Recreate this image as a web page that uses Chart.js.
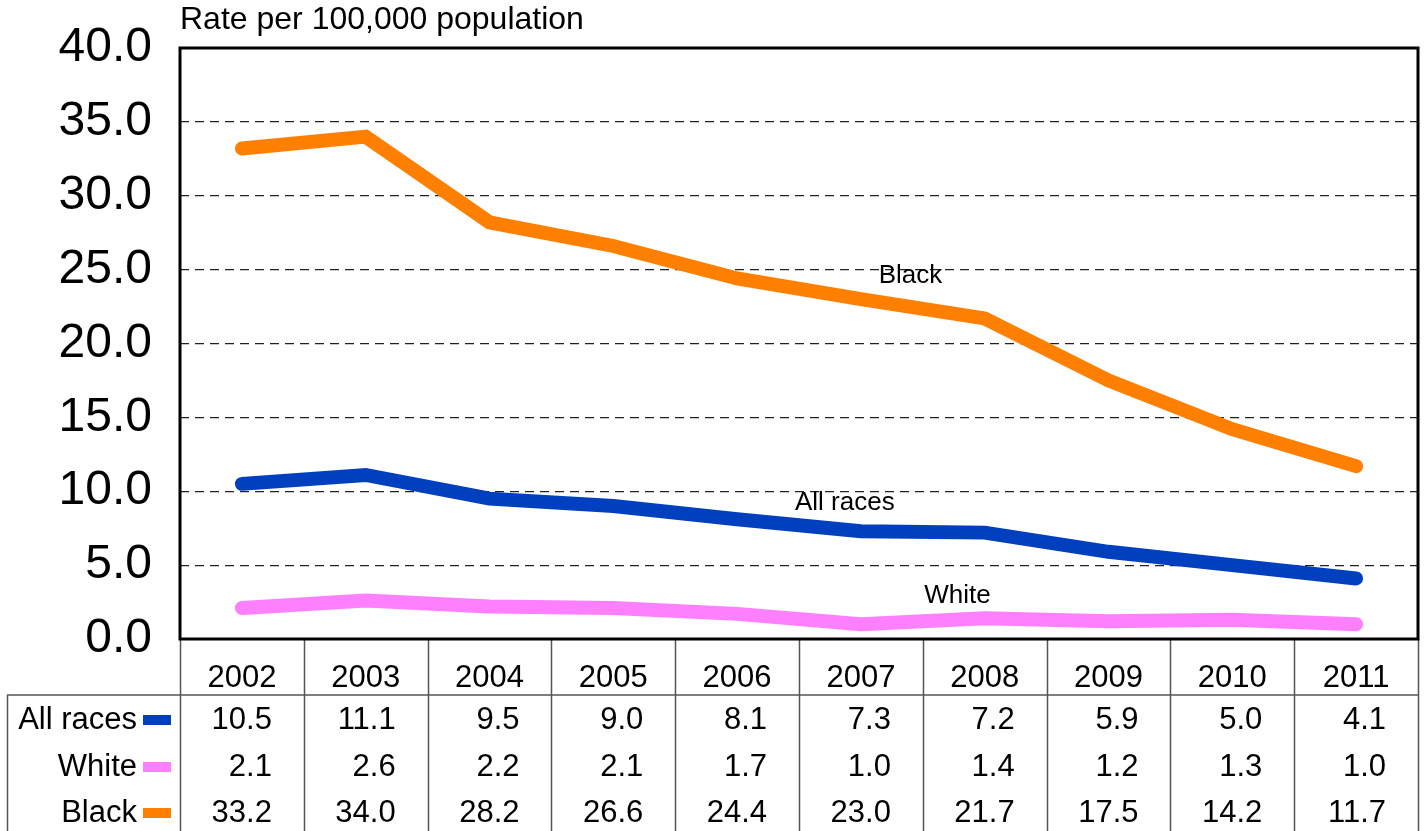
<!DOCTYPE html>
<html>
<head>
<meta charset="utf-8">
<script src="https://cdn.jsdelivr.net/npm/chart.js@4/dist/chart.umd.min.js"></script>
<style>
  html, body { margin: 0; padding: 0; background: #fff; }
  #wrap { width: 1424px; height: 831px; }
</style>
</head>
<body>
<div id="wrap"><canvas id="grafico" width="1424" height="831"></canvas></div>
<script>
// dados
var anos = ['2002', '2003', '2004', '2005', '2006', '2007', '2008', '2009', '2010', '2011'];
var todasRacas = [10.5, 11.1, 9.5, 9.0, 8.1, 7.3, 7.2, 5.9, 5.0, 4.1];
var brancos = [2.1, 2.6, 2.2, 2.1, 1.7, 1.0, 1.4, 1.2, 1.3, 1.0];
var negros = [33.2, 34.0, 28.2, 26.6, 24.4, 23.0, 21.7, 17.5, 14.2, 11.7];
var nomesSeries = ['All races', 'White', 'Black'];
var coresSeries = ['#0040bf', '#ff80ff', '#ff8000'];
// rótulos sobre as linhas: [indice x, valor y]
var posRotulos = [[4.87, 9.2], [5.78, 2.9], [5.4, 24.6]];

var fonte = '"Liberation Sans", Arial, sans-serif';

// desenha moldura, titulo, rotulos e tabela
var tabelaPlugin = {
  id: 'tabela',
  afterDraw: function (chart) {
    var ctx = chart.ctx;
    var area = chart.chartArea;
    var x = chart.scales.x;
    var y = chart.scales.y;
    var largura = (area.right - area.left) / anos.length;
    ctx.save();

    // titulo do eixo
    ctx.fillStyle = '#000';
    ctx.font = '32px ' + fonte;
    ctx.textAlign = 'left';
    ctx.textBaseline = 'middle';
    ctx.fillText('Rate per 100,000 population', area.left, 20);

    // rotulos das linhas
    ctx.font = '26px ' + fonte;
    ctx.textAlign = 'center';
    for (var s = 0; s < 3; s++) {
      ctx.fillText(nomesSeries[s], x.getPixelForValue(posRotulos[s][0]), y.getPixelForValue(posRotulos[s][1]));
    }

    // linhas da tabela
    var linhaCab = area.bottom + 56;
    var base = chart.height;
    ctx.strokeStyle = '#555';
    ctx.lineWidth = 1.5;
    ctx.beginPath();
    for (var i = 0; i <= anos.length; i++) {
      var xl = Math.round(area.left + i * largura) + 0.5;
      ctx.moveTo(xl, area.bottom);
      ctx.lineTo(xl, base);
    }
    ctx.moveTo(7, linhaCab);
    ctx.lineTo(area.right, linhaCab);
    ctx.moveTo(7.5, linhaCab);
    ctx.lineTo(7.5, base);
    ctx.stroke();

    // cabecalho com os anos
    ctx.fillStyle = '#000';
    ctx.font = '31px ' + fonte;
    ctx.textAlign = 'center';
    for (var i = 0; i < anos.length; i++) {
      ctx.fillText(anos[i], x.getPixelForValue(i), area.bottom + 39);
    }

    // linhas de valores
    var series = [todasRacas, brancos, negros];
    var ys = [linhaCab + 25, linhaCab + 72, linhaCab + 118];
    for (var s = 0; s < 3; s++) {
      ctx.textAlign = 'right';
      ctx.fillStyle = '#000';
      ctx.fillText(nomesSeries[s], 137, ys[s]);
      ctx.fillStyle = coresSeries[s];
      ctx.fillRect(143, ys[s] - 5, 28, 10);
      ctx.fillStyle = '#000';
      for (var i = 0; i < anos.length; i++) {
        ctx.fillText(series[s][i].toFixed(1), x.getPixelForValue(i) + 30, ys[s]);
      }
    }

    // moldura da area do grafico
    ctx.strokeStyle = '#000';
    ctx.lineWidth = 3;
    ctx.strokeRect(area.left, area.top, area.right - area.left, area.bottom - area.top);
    ctx.restore();
  }
};

var ctx = document.getElementById('grafico').getContext('2d');
var chart = new Chart(ctx, {
  type: 'line',
  data: {
    labels: anos,
    datasets: [
      { label: nomesSeries[2], data: negros, borderColor: coresSeries[2] },
      { label: nomesSeries[0], data: todasRacas, borderColor: coresSeries[0] },
      { label: nomesSeries[1], data: brancos, borderColor: coresSeries[1] }
    ]
  },
  options: {
    responsive: false,
    animation: false,
    devicePixelRatio: 1,
    layout: { padding: { top: 48, right: 6, bottom: 192, left: 0 } },
    elements: {
      line: { borderWidth: 14, tension: 0, borderCapStyle: 'round', borderJoinStyle: 'miter' },
      point: { radius: 0, hoverRadius: 0 }
    },
    scales: {
      x: { display: false, offset: true },
      y: {
        min: 0,
        max: 40,
        afterFit: function (scale) {
          scale.width = 180;
          scale.paddingTop = 0;
          scale.paddingBottom = 0;
        },
        border: { display: false, dash: [9, 6] },
        grid: {
          drawTicks: false,
          color: function (c) {
            return (c.tick.value === 0 || c.tick.value === 40) ? 'rgba(0,0,0,0)' : '#222';
          },
          lineWidth: 1.2
        },
        ticks: {
          stepSize: 5,
          padding: 28,
          color: '#000',
          font: { family: fonte, size: 48 },
          callback: function (v) { return v.toFixed(1); }
        }
      }
    },
    plugins: {
      legend: { display: false },
      tooltip: { enabled: false }
    }
  },
  plugins: [tabelaPlugin]
});
</script>
</body>
</html>
